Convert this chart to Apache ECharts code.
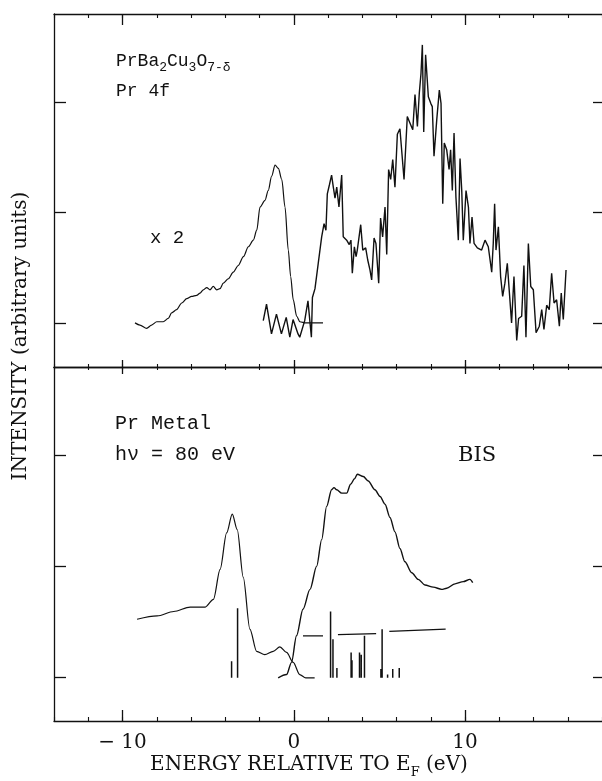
<!DOCTYPE html>
<html>
<head>
<meta charset="utf-8">
<script src="https://cdn.jsdelivr.net/npm/echarts@6/dist/echarts.min.js"></script>
<style>
  html, body { margin: 0; padding: 0; background: #fff; }
  #chart { width: 602px; height: 781px; }
</style>
</head>
<body>
<div id="chart"></div>
<script>
// x ticks (eV)
const majorTicks = [-10, 0, 10];
const yTicks = [1, 2, 3];

// upper panel: PrBa2Cu3O7-d, Pr 4f (resonant PES x2 and BIS)
const topPesE = [-9.27,-8.98,-8.59,-8.30,-8.00,-7.62,-7.33,-7.13,-6.84,-6.54,-6.25,-5.96,-5.67,-5.47,-5.28,-5.08,-4.89,-4.70,-4.50,-4.31,-4.11,-3.82,-3.53,-3.24,-2.94,-2.65,-2.36,-2.16,-1.97,-1.68,-1.49,-1.29,-1.09,-0.90,-0.70,-0.51,-0.32,-0.18,-0.03,0.17,0.36,0.70,1.71];
const topPesV = [1.00,0.98,0.95,0.98,1.01,1.01,1.04,1.09,1.12,1.18,1.22,1.24,1.25,1.27,1.30,1.32,1.30,1.33,1.30,1.31,1.36,1.40,1.46,1.52,1.60,1.69,1.75,1.84,2.05,2.11,2.20,2.33,2.43,2.40,2.30,2.05,1.66,1.42,1.21,1.06,1.01,1.00,1.00];

const topBisE = [-1.78,-1.59,-1.30,-1.01,-0.72,-0.44,-0.23,-0.04,0.25,0.35,
  0.64,0.83,1.03,1.09,1.24,1.43,1.63,1.77,1.88,1.96,
  2.08,2.21,2.31,2.41,2.51,2.64,2.80,2.89,3.09,3.24,
  3.34,3.42,3.54,3.64,3.71,3.91,4.03,4.20,4.32,4.45,
  4.55,4.69,4.80,4.96,5.07,5.19,5.33,5.43,5.54,5.66,
  5.78,5.91,6.05,6.20,6.44,6.63,6.79,6.95,7.08,7.22,
  7.33,7.43,7.51,7.59,7.70,7.86,8.00,8.09,8.19,8.35,
  8.50,8.60,8.70,8.79,8.93,9.07,9.16,9.26,9.36,9.47,
  9.61,9.71,9.81,9.90,10.06,10.20,10.29,10.41,10.53,10.72,
  10.97,11.17,11.36,11.56,11.65,11.73,11.81,11.95,12.08,12.20,
  12.33,12.47,12.58,12.72,12.86,13.02,13.13,13.31,13.44,13.56,
  13.70,13.84,13.99,14.15,14.34,14.48,14.61,14.77,14.92,15.06,
  15.20,15.35,15.51,15.62,15.74,15.90];
const topBisV = [1.02,1.17,0.90,1.08,0.90,1.05,0.87,1.03,0.90,0.87,
  1.02,1.20,0.87,1.23,1.31,1.54,1.78,1.90,1.84,2.17,
  2.25,2.34,2.23,2.13,2.23,2.05,2.34,1.78,1.75,1.71,
  1.75,1.45,1.69,1.60,1.66,1.89,1.66,1.68,1.57,1.48,
  1.39,1.77,1.72,1.36,1.95,1.78,2.05,1.62,2.39,2.30,
  2.48,2.23,2.71,2.76,2.30,2.87,2.81,2.75,3.07,2.78,
  3.08,3.26,3.52,2.73,3.43,3.05,2.99,2.96,2.51,2.84,
  3.11,2.99,2.08,2.63,2.57,2.39,2.57,2.20,2.72,2.14,
  1.75,2.49,2.20,1.75,2.20,2.05,1.72,1.96,1.72,1.68,
  1.66,1.75,1.69,1.46,1.72,2.08,1.66,1.87,1.42,1.24,
  1.36,1.54,1.30,1.00,1.42,0.84,1.04,1.06,1.52,0.87,
  1.72,1.33,1.30,0.91,0.97,1.12,0.94,1.16,1.12,1.45,
  1.18,1.21,0.97,1.27,1.03,1.48];

// lower panel: Pr metal, hv = 80 eV PES and BIS
const botPesE = [-9.15,-7.98,-7.01,-6.05,-5.17,-4.69,-4.30,-3.92,-3.59,-3.30,-2.95,-2.56,-2.17,-1.69,-1.20,-0.81,-0.42,-0.03,0.35,0.70,1.22];
const botPesV = [1.52,1.55,1.59,1.63,1.63,1.70,1.97,2.30,2.47,2.33,1.90,1.43,1.23,1.20,1.23,1.27,1.22,1.13,1.02,0.99,0.99];

const botBisE = [-0.91,-0.42,-0.13,0.16,0.54,0.95,1.34,1.63,1.92,2.21,2.35,2.51,2.80,3.09,3.32,3.55,3.71,4.06,4.35,4.74,5.04,5.33,5.62,5.91,6.20,6.49,6.89,7.27,7.66,8.15,8.64,8.93,9.42,9.90,10.29,10.45];
const botBisV = [0.99,1.02,1.13,1.37,1.61,1.79,2.00,2.24,2.54,2.69,2.71,2.69,2.66,2.66,2.74,2.79,2.83,2.81,2.77,2.69,2.63,2.56,2.44,2.31,2.16,2.04,1.94,1.88,1.83,1.81,1.79,1.80,1.84,1.86,1.88,1.85];

// calculated multiplet lines
const stickE = [-3.63,-3.28,2.15,2.29,2.52,3.35,3.40,3.84,3.94,4.13,5.09,5.16,5.48,5.78,6.16];
const stickH = [1.14,1.62,1.59,1.34,1.08,1.22,1.15,1.22,1.20,1.37,1.07,1.43,1.02,1.07,1.08];
const stickBase = 0.99;

const segE = [[0.54,1.71],[2.58,4.81],[5.58,8.87]];
const segV = [[1.37,1.37],[1.38,1.39],[1.41,1.43]];

const ink = '#111';
const zip = (xs, ys) => xs.map((x, i) => [x, ys[i]]);

function sticks() {
  const d = [];
  stickE.forEach((e, i) => { d.push([e, stickBase], [e, stickH[i]], [e, '-']); });
  return d;
}
function segments() {
  const d = [];
  segE.forEach((s, i) => { d.push([s[0], segV[i][0]], [s[1], segV[i][1]], [s[1], '-']); });
  return d;
}

function xMajor(grid, pos, len, labels) {
  return {
    type: 'value', gridIndex: grid, position: pos, min: -14, max: 18,
    axisLine: { show: true, onZero: false, lineStyle: { color: ink, width: 1.3 } },
    axisTick: { show: true, inside: true, length: len, customValues: majorTicks, lineStyle: { color: ink, width: 1.3 } },
    axisLabel: {
      show: labels, customValues: majorTicks, margin: 12,
      fontFamily: 'DejaVu Serif', fontSize: 20, color: ink,
      formatter: v => (v < 0 ? '\u2212 ' + Math.abs(v) : '' + v)
    },
    splitLine: { show: false }
  };
}
function xMinor(grid, pos, len) {
  return {
    type: 'value', gridIndex: grid, position: pos, min: -14, max: 18, interval: 2,
    axisLine: { show: false, onZero: false },
    axisTick: { show: true, inside: true, length: len, lineStyle: { color: ink, width: 1.1 } },
    axisLabel: { show: false }, splitLine: { show: false }
  };
}
function yAxisOf(grid, pos, len) {
  return {
    type: 'value', gridIndex: grid, position: pos, min: 0.6, max: 3.8,
    axisLine: { show: pos === 'left', onZero: false, lineStyle: { color: ink, width: 1.3 } },
    axisTick: { show: true, inside: true, length: len, customValues: yTicks, lineStyle: { color: ink, width: 1.3 } },
    axisLabel: { show: false }, splitLine: { show: false }
  };
}

function curve(data, x, y, w, smooth) {
  return {
    type: 'line', data: data, xAxisIndex: x, yAxisIndex: y,
    showSymbol: false, symbol: 'none', connectNulls: false, silent: true,
    smooth: smooth || false, smoothMonotone: 'x',
    lineStyle: { color: ink, width: w || 1.3 }
  };
}

const chart = echarts.init(document.getElementById('chart'));
chart.setOption({
  backgroundColor: '#fff',
  animation: false,
  grid: [
    { left: 54, right: 0, top: 14, height: 353, outerBoundsMode: 'none' },
    { left: 54, right: 0, top: 367, height: 354, outerBoundsMode: 'none' }
  ],
  xAxis: [
    xMajor(0, 'bottom', 7, false), xMinor(0, 'bottom', 3),
    xMajor(0, 'top', 11, false), xMinor(0, 'top', 4),
    xMajor(1, 'top', 7, false), xMinor(1, 'top', 3),
    xMajor(1, 'bottom', 11, true), xMinor(1, 'bottom', 4)
  ],
  yAxis: [
    yAxisOf(0, 'left', 12), yAxisOf(0, 'right', 9),
    yAxisOf(1, 'left', 12), yAxisOf(1, 'right', 9)
  ],
  series: [
    curve(zip(topPesE, topPesV), 0, 0, 1.2, 0.3),
    curve(zip(topBisE, topBisV), 0, 0, 1.4),
    curve(zip(botPesE, botPesV), 6, 2, 1.2, 0.3),
    curve(zip(botBisE, botBisV), 6, 2, 1.4, 0.3),
    curve(sticks(), 6, 2, 1.5),
    curve(segments(), 6, 2, 1.3)
  ],
  graphic: [
    {
      type: 'text', x: 116, y: 63,
      style: {
        text: '{m|PrBa}{s|2}{m|Cu}{s|3}{m|O}{s|7-\u03b4}', fill: ink,
        font: '18px "Liberation Mono"', verticalAlign: 'middle',
        rich: {
          m: { fontSize: 18, fontFamily: 'Liberation Mono', verticalAlign: 'top', lineHeight: 18 },
          s: { fontSize: 13, fontFamily: 'Liberation Mono', verticalAlign: 'bottom', lineHeight: 22 }
        }
      }
    },
    { type: 'text', x: 116, y: 91, style: { text: 'Pr 4f', fill: ink, font: '18px "Liberation Mono"', verticalAlign: 'middle' } },
    { type: 'text', x: 150, y: 238, style: { text: 'x 2', fill: ink, font: '19px "Liberation Mono"', verticalAlign: 'middle' } },
    { type: 'text', x: 115, y: 424, style: { text: 'Pr Metal', fill: ink, font: '20px "Liberation Mono"', verticalAlign: 'middle' } },
    { type: 'text', x: 115, y: 455, style: { text: 'h\u03bd = 80 eV', fill: ink, font: '20px "Liberation Mono"', verticalAlign: 'middle' } },
    { type: 'text', x: 458, y: 456, style: { text: 'BIS', fill: ink, font: '21px "DejaVu Serif"', verticalAlign: 'middle' } },
    {
      type: 'text', x: 21, y: 336, rotation: Math.PI / 2,
      style: { text: 'INTENSITY (arbitrary units)', fill: ink, font: '20px "DejaVu Serif"', align: 'center', verticalAlign: 'middle' }
    },
    {
      type: 'text', x: 309, y: 767,
      style: {
        text: '{m|ENERGY RELATIVE TO E}{s|F}{m| (eV)}', fill: ink,
        font: '20px "DejaVu Serif"', align: 'center', verticalAlign: 'middle',
        rich: {
          m: { fontSize: 20, fontFamily: 'DejaVu Serif', verticalAlign: 'top', lineHeight: 20 },
          s: { fontSize: 13, fontFamily: 'DejaVu Serif', verticalAlign: 'bottom', lineHeight: 24 }
        }
      }
    }
  ]
});
</script>
</body>
</html>
